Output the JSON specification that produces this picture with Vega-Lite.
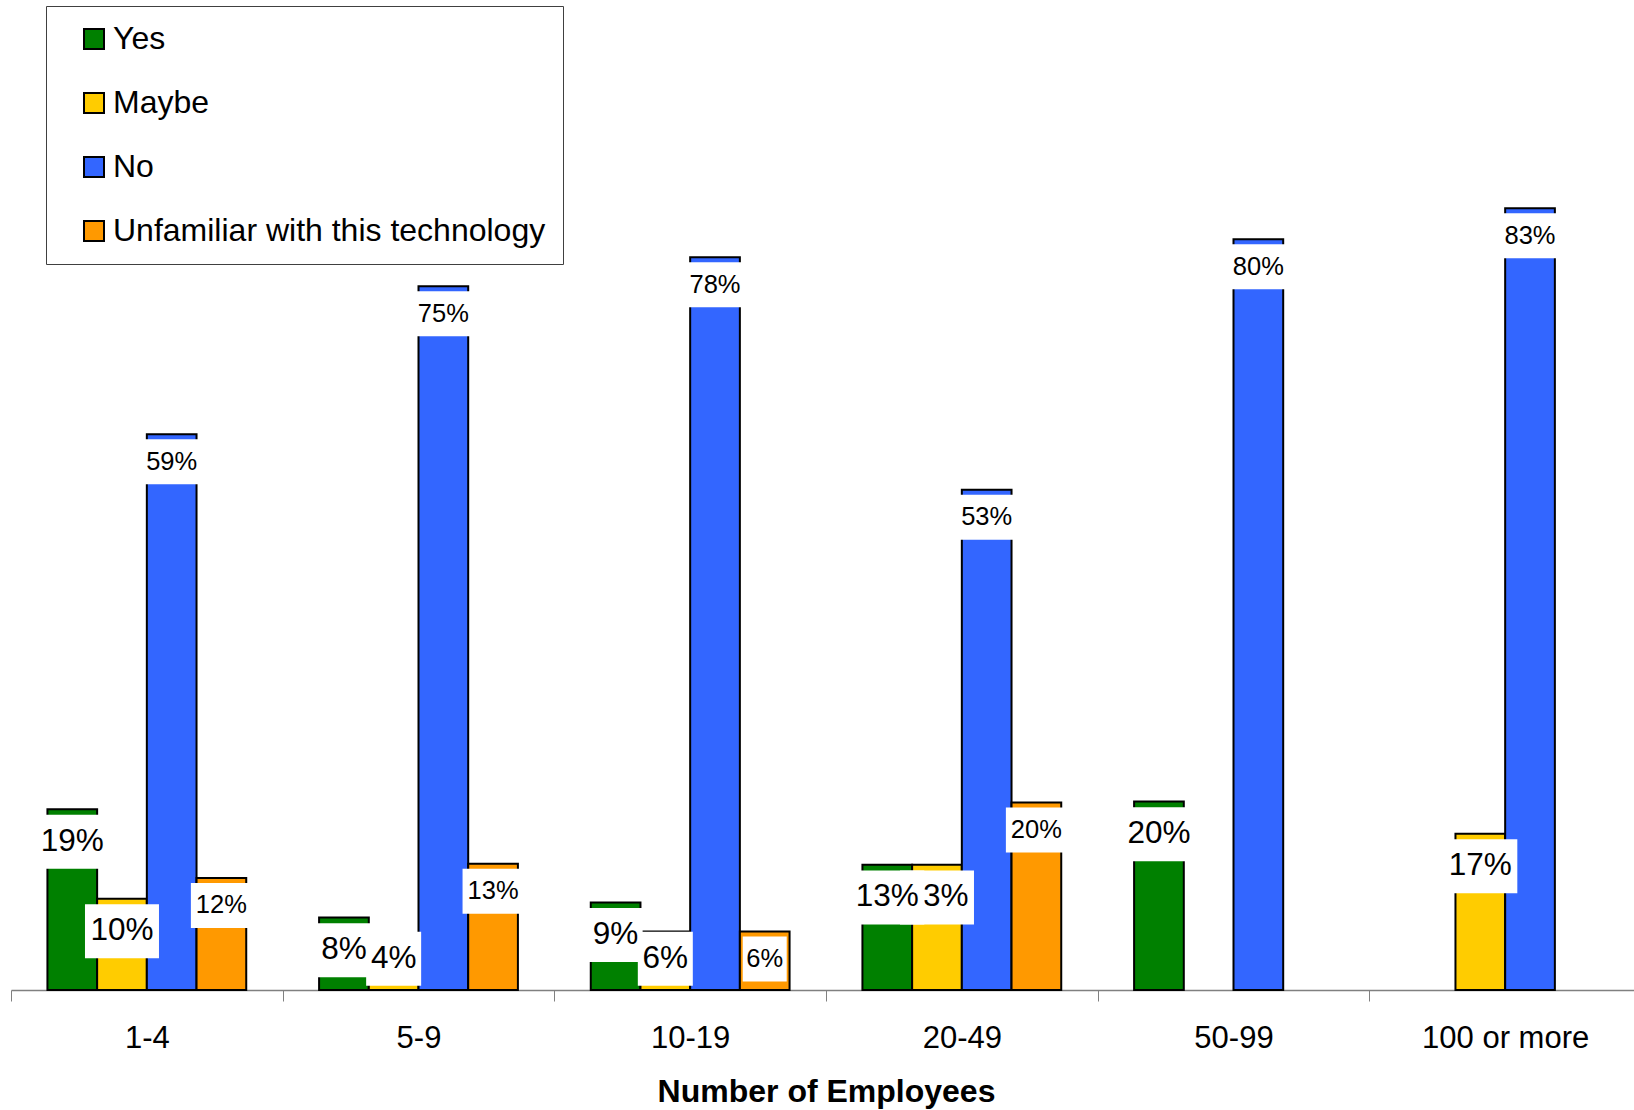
{
  "$schema": "https://vega.github.io/schema/vega-lite/v6.json",
  "width": 1623,
  "height": 990,
  "autosize": {"type": "none"},
  "padding": {"left": 11, "top": 0, "right": 0, "bottom": 120},
  "background": "white",
  "config": {"view": {"stroke": null}, "font": "Liberation Sans"},
  "data": {"values": [
    {"group": "1-4", "series": "Yes", "value": 19.2, "label": "19%"},
    {"group": "1-4", "series": "Maybe", "value": 9.7, "label": "10%"},
    {"group": "1-4", "series": "No", "value": 59, "label": "59%"},
    {"group": "1-4", "series": "Unfamiliar with this technology", "value": 11.9, "label": "12%"},
    {"group": "5-9", "series": "Yes", "value": 7.7, "label": "8%"},
    {"group": "5-9", "series": "Maybe", "value": 4, "label": "4%"},
    {"group": "5-9", "series": "No", "value": 74.7, "label": "75%"},
    {"group": "5-9", "series": "Unfamiliar with this technology", "value": 13.4, "label": "13%"},
    {"group": "10-19", "series": "Yes", "value": 9.3, "label": "9%"},
    {"group": "10-19", "series": "Maybe", "value": 6.2, "label": "6%"},
    {"group": "10-19", "series": "No", "value": 77.8, "label": "78%"},
    {"group": "10-19", "series": "Unfamiliar with this technology", "value": 6.2, "label": "6%"},
    {"group": "20-49", "series": "Yes", "value": 13.3, "label": "13%"},
    {"group": "20-49", "series": "Maybe", "value": 13.3, "label": "13%"},
    {"group": "20-49", "series": "No", "value": 53.1, "label": "53%"},
    {"group": "20-49", "series": "Unfamiliar with this technology", "value": 19.9, "label": "20%"},
    {"group": "50-99", "series": "Yes", "value": 20, "label": "20%"},
    {"group": "50-99", "series": "No", "value": 79.7, "label": "80%"},
    {"group": "100 or more", "series": "Maybe", "value": 16.6, "label": "17%"},
    {"group": "100 or more", "series": "No", "value": 83, "label": "83%"}
  ]},
  "encoding": {
    "x": {
      "field": "group", "type": "nominal",
      "sort": ["1-4", "5-9", "10-19", "20-49", "50-99", "100 or more"],
      "scale": {"range": [0, 1630], "paddingInner": 0, "paddingOuter": 0},
      "title": "Number of Employees",
      "axis": {
        "labelAngle": 0, "labelFontSize": 31, "labelColor": "black", "labelFont": "Liberation Sans",
        "labelPadding": 22, "tickSize": 11, "tickColor": "#808080", "tickWidth": 1,
        "domainColor": "#808080", "domainWidth": 1.5, "tickBand": "extent", "grid": false,
        "titleFontSize": 32, "titleFontWeight": "bold", "titleColor": "black", "titleFont": "Liberation Sans",
        "titlePadding": 23
      }
    },
    "xOffset": {
      "field": "series", "type": "nominal",
      "sort": ["Yes", "Maybe", "No", "Unfamiliar with this technology"],
      "scale": {"domain": ["Yes", "Maybe", "No", "Unfamiliar with this technology"], "paddingInner": 0, "paddingOuter": 0.733}
    }
  },
  "layer": [
    {
      "mark": {"type": "bar", "stroke": "black", "strokeWidth": 2, "opacity": 1},
      "encoding": {
        "y": {"field": "value", "type": "quantitative", "scale": {"domain": [0, 105.1], "nice": false}, "axis": null},
        "color": {
          "field": "series", "type": "nominal",
          "scale": {"domain": ["Yes", "Maybe", "No", "Unfamiliar with this technology"], "range": ["#008000", "#FFCC00", "#3366FF", "#FF9900"]},
          "legend": {
            "orient": "none", "legendX": 35, "legendY": 6, "title": null, "direction": "vertical",
            "symbolType": "square", "symbolSize": 400, "symbolStrokeColor": "black", "symbolStrokeWidth": 2,
            "symbolOpacity": 1,
            "labelFontSize": 32, "labelColor": "black", "labelFont": "Liberation Sans", "labelLimit": 1000,
            "rowPadding": 32, "padding": 17, "strokeColor": "#404040", "fillColor": "white",
            "symbolOffset": 15, "labelOffset": 3
          }
        }
      }
    },
    {
      "transform": [{"filter": "datum.series === 'No' || datum.series === 'Unfamiliar with this technology'"}],
      "mark": {"type": "tick", "color": "white", "opacity": 1, "thickness": 45, "yOffset": 27.5, "orient": "horizontal"},
      "encoding": {
        "y": {"field": "value", "type": "quantitative"},
        "size": {"condition": {"test": "length(datum.label) < 3", "value": 44}, "value": 61}
      }
    },
    {
      "transform": [{"filter": "datum.series === 'No' || datum.series === 'Unfamiliar with this technology'"}],
      "mark": {"type": "text", "baseline": "middle", "align": "center", "yOffset": 27.5, "fontSize": 25.5, "color": "black", "font": "Liberation Sans"},
      "encoding": {
        "y": {"field": "value", "type": "quantitative"},
        "text": {"field": "label"}
      }
    },
    {
      "transform": [{"filter": "datum.series === 'Maybe' && datum.value >= 7"}],
      "mark": {"type": "tick", "color": "white", "opacity": 1, "thickness": 54, "yOffset": 32.7, "orient": "horizontal"},
      "encoding": {
        "y": {"field": "value", "type": "quantitative"},
        "size": {"condition": {"test": "length(datum.label) < 3", "value": 54}, "value": 74}
      }
    },
    {
      "transform": [{"filter": "datum.series === 'Maybe' && datum.value >= 7"}],
      "mark": {"type": "text", "baseline": "middle", "align": "center", "yOffset": 32.7, "fontSize": 31.5, "color": "black", "font": "Liberation Sans"},
      "encoding": {
        "y": {"field": "value", "type": "quantitative"},
        "text": {"field": "label"}
      }
    },
    {
      "transform": [{"filter": "datum.series === 'Maybe' && datum.value < 7"}],
      "mark": {"type": "tick", "color": "white", "opacity": 1, "thickness": 54, "yOffset": 32.7, "orient": "horizontal"},
      "encoding": {
        "y": {"datum": 6.8, "type": "quantitative"},
        "size": {"condition": {"test": "length(datum.label) < 3", "value": 55}, "value": 74}
      }
    },
    {
      "transform": [{"filter": "datum.series === 'Maybe' && datum.value < 7"}],
      "mark": {"type": "text", "baseline": "middle", "align": "center", "yOffset": 32.7, "fontSize": 31.5, "color": "black", "font": "Liberation Sans"},
      "encoding": {
        "y": {"datum": 6.8, "type": "quantitative"},
        "text": {"field": "label"}
      }
    },
    {
      "transform": [{"filter": "datum.series === 'Yes'"}],
      "mark": {"type": "tick", "color": "white", "opacity": 1, "thickness": 54, "yOffset": 32.7, "orient": "horizontal"},
      "encoding": {
        "y": {"field": "value", "type": "quantitative"},
        "size": {"condition": {"test": "length(datum.label) < 3", "value": 54}, "value": 74}
      }
    },
    {
      "transform": [{"filter": "datum.series === 'Yes'"}],
      "mark": {"type": "text", "baseline": "middle", "align": "center", "yOffset": 32.7, "fontSize": 31.5, "color": "black", "font": "Liberation Sans"},
      "encoding": {
        "y": {"field": "value", "type": "quantitative"},
        "text": {"field": "label"}
      }
    }
  ]
}
